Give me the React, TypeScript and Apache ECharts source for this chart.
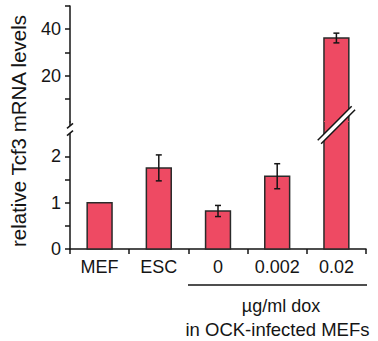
import React, { useEffect, useRef } from 'react';
import * as echarts from 'echarts';

const categories = ['MEF', 'ESC', '0', '0.002', '0.02'];
const values = [1.0, 1.75, 0.82, 1.57, 36.2];
const errors = [0, 0.28, 0.12, 0.27, 2.1];
const lowerTicks = [0, 0.5, 1, 1.5, 2];
const lowerLabels = [0, 1, 2];
const upperTicks = [10, 20, 30, 40, 50];
const upperLabels = [20, 40];
const lowerMax = 2.74;
const upperMax = 50;
const yTitle = 'relative Tcf3 mRNA levels';
const groupTitle = ['µg/ml dox', 'in OCK-infected MEFs'];

const BAR = '#EE4A63';
const EDGE = '#2a2a2a';
const INK = '#151515';
const FONT = '"Liberation Sans", Arial, Helvetica, sans-serif';

function errorBar(api: any, i: number, v: number, e: number, cx: number) {
  const yHi = api.coord([i, v + e])[1];
  const yLo = api.coord([i, v - e])[1];
  const cap = 3;
  const st = { stroke: INK, lineWidth: 1.5 };
  return [
    { type: 'line', shape: { x1: cx, y1: yHi, x2: cx, y2: yLo }, style: st },
    { type: 'line', shape: { x1: cx - cap, y1: yHi, x2: cx + cap, y2: yHi }, style: st },
    { type: 'line', shape: { x1: cx - cap, y1: yLo, x2: cx + cap, y2: yLo }, style: st },
  ];
}

function makeRender(part: 'lower' | 'upper') {
  return (params: any, api: any) => {
    const i = api.value(0);
    const v = api.value(1);
    const e = api.value(2);
    const cs = params.coordSys;
    const bw = api.size([1, 0])[0] * 0.42;
    const base = api.coord([i, 0]);
    const cx = base[0];
    const yBase = base[1];
    const x0 = cx - bw / 2;
    const x1 = cx + bw / 2;
    const children: any[] = [];
    const broken = v > lowerMax;
    if (part === 'lower') {
      if (broken) {
        const yTop = cs.y;
        children.push({
          type: 'rect',
          shape: { x: x0, y: yTop - 1, width: bw, height: yBase - yTop + 1 },
          style: { fill: BAR },
        });
        children.push({
          type: 'polyline',
          shape: { points: [[x0, yTop], [x0, yBase], [x1, yBase], [x1, yTop]] },
          style: { fill: null, stroke: EDGE, lineWidth: 1.5 },
        });
        const c = [cx, yTop + 3];
        const L = 24;
        const h = 2.4;
        const u = [Math.SQRT1_2, -Math.SQRT1_2];
        const n = [Math.SQRT1_2, Math.SQRT1_2];
        const p = (a: number, b: number) => [c[0] + u[0] * a + n[0] * b, c[1] + u[1] * a + n[1] * b];
        children.push({
          type: 'polygon',
          shape: { points: [p(L, h), p(L, -h), p(-L, -h), p(-L, h)] },
          style: { fill: '#fff' },
        });
        children.push({
          type: 'line',
          shape: { x1: p(-L, h)[0], y1: p(-L, h)[1], x2: p(L, h)[0], y2: p(L, h)[1] },
          style: { stroke: INK, lineWidth: 1.5 },
        });
        children.push({
          type: 'line',
          shape: { x1: p(-L, -h)[0], y1: p(-L, -h)[1], x2: p(L, -h)[0], y2: p(L, -h)[1] },
          style: { stroke: INK, lineWidth: 1.5 },
        });
      } else {
        const yTop = api.coord([i, v])[1];
        children.push({
          type: 'rect',
          shape: { x: x0, y: yTop, width: bw, height: yBase - yTop },
          style: { fill: BAR, stroke: EDGE, lineWidth: 1.5 },
        });
        if (e > 0) children.push(...errorBar(api, i, v, e, cx));
      }
      if (params.dataIndex === 0) {
        const ax = cs.x;
        const s1 = cs.y + 3.8;
        const s2 = cs.y + 11.2;
        children.push({
          type: 'rect',
          shape: { x: ax - 6, y: s1, width: 12, height: s2 - s1 },
          style: { fill: '#fff' },
        });
        [s1, s2].forEach((sy) => {
          children.push({
            type: 'line',
            shape: { x1: ax - 3, y1: sy + 2.5, x2: ax + 3, y2: sy - 2.5 },
            style: { stroke: INK, lineWidth: 1.5 },
          });
        });
      }
    } else {
      const yTop = api.coord([i, v])[1];
      children.push({
        type: 'rect',
        shape: { x: x0, y: yTop, width: bw, height: yBase - yTop + 1 },
        style: { fill: BAR },
      });
      children.push({
        type: 'polyline',
        shape: { points: [[x0, yBase], [x0, yTop], [x1, yTop], [x1, yBase]] },
        style: { fill: null, stroke: EDGE, lineWidth: 1.5 },
      });
      if (e > 0) children.push(...errorBar(api, i, v, e, cx));
    }
    return { type: 'group', children };
  };
}

export default function App() {
  const ref = useRef<HTMLDivElement>(null);
  useEffect(() => {
    if (!ref.current) return;
    const chart = echarts.init(ref.current, undefined, { renderer: 'svg' });
    const axisLine = { show: true, lineStyle: { color: INK, width: 1.5 } };
    const tick = { show: true, length: 5, inside: false, lineStyle: { color: INK, width: 1.5 } };
    const lowerData = values.map((v, i) => [i, v, errors[i]]);
    const upperData = values.map((v, i) => [i, v, errors[i]]).filter((d) => d[1] > lowerMax);
    chart.setOption({
      animation: false,
      grid: [
        { left: 70, right: 12, top: 6, height: 116 },
        { left: 70, right: 12, top: 122, height: 127 },
      ],
      xAxis: [
        { gridIndex: 0, type: 'category', data: categories, show: false },
        {
          gridIndex: 1,
          type: 'category',
          data: categories,
          axisLine,
          axisTick: tick,
          axisLabel: { fontSize: 18, color: INK, margin: 9, fontFamily: FONT },
        },
      ],
      yAxis: [
        {
          gridIndex: 0,
          type: 'value',
          min: 0,
          max: upperMax,
          axisLine,
          axisTick: { ...tick, customValues: upperTicks },
          axisLabel: { fontSize: 18, color: INK, margin: 9, fontFamily: FONT, customValues: upperLabels },
          splitLine: { show: false },
        },
        {
          gridIndex: 1,
          type: 'value',
          min: 0,
          max: lowerMax,
          axisLine,
          axisTick: { ...tick, customValues: lowerTicks },
          axisLabel: { fontSize: 18, color: INK, margin: 9, fontFamily: FONT, customValues: lowerLabels },
          splitLine: { show: false },
        },
      ],
      series: [
        {
          type: 'custom',
          xAxisIndex: 1,
          yAxisIndex: 1,
          renderItem: makeRender('lower'),
          data: lowerData,
          encode: { x: 0, y: 1 },
          z: 3,
        },
        {
          type: 'custom',
          xAxisIndex: 0,
          yAxisIndex: 0,
          renderItem: makeRender('upper'),
          data: upperData,
          encode: { x: 0, y: 1 },
          z: 2,
        },
      ],
      graphic: [
        {
          type: 'text',
          x: 18,
          y: 131,
          rotation: Math.PI / 2,
          style: {
            text: yTitle,
            fontSize: 20.5,
            fill: INK,
            textAlign: 'center',
            textVerticalAlign: 'middle',
            fontFamily: FONT,
          },
        },
        {
          type: 'line',
          shape: { x1: 188, y1: 285, x2: 367, y2: 285 },
          style: { stroke: INK, lineWidth: 1.5 },
        },
        {
          type: 'text',
          x: 281,
          y: 306,
          style: {
            text: groupTitle[0],
            fontSize: 18,
            fill: INK,
            textAlign: 'center',
            textVerticalAlign: 'middle',
            fontFamily: FONT,
          },
        },
        {
          type: 'text',
          x: 277.5,
          y: 329,
          style: {
            text: groupTitle[1],
            fontSize: 18.5,
            fill: INK,
            textAlign: 'center',
            textVerticalAlign: 'middle',
            fontFamily: FONT,
          },
        },
      ],
    });
    return () => chart.dispose();
  }, []);
  return (
    <div
      ref={ref}
      style={{ position: 'fixed', left: 0, top: 0, width: 378, height: 341, background: '#fff' }}
    />
  );
}
